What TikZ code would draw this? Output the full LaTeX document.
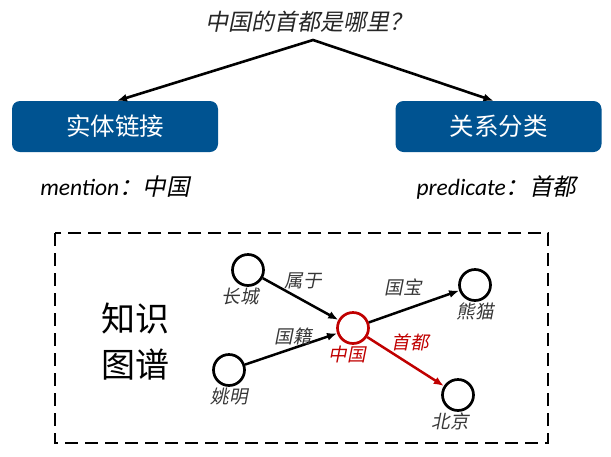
\documentclass[tikz,border=0pt]{standalone}
\usepackage{fontspec}
\setmainfont{Carlito}
\newfontfamily\cjk{Noto Sans CJK SC}
\newfontfamily\cjkit[FakeSlant=0.2]{Noto Sans CJK SC}
\usetikzlibrary{arrows.meta}

\definecolor{boxblue}{RGB}{0,83,145}
\definecolor{kgred}{RGB}{192,0,0}
\definecolor{txtgray}{RGB}{55,55,55}

\tikzset{
  task/.style={rectangle, rounded corners=8pt, fill=boxblue, minimum width=206pt,
    minimum height=51pt, text=white, font=\fontsize{24.5}{28}\selectfont\cjk},
  ent/.style={circle, draw, line width=2.7pt, minimum size=31pt, inner sep=0pt},
  entlbl/.style={font=\fontsize{18.5}{22}\selectfont\cjkit, text=txtgray, inner sep=1pt},
  rellbl/.style={font=\fontsize{18.5}{22}\selectfont\cjkit, text=txtgray, inner sep=1pt},
  rel/.style={-{Latex[length=10pt,width=8pt]}, line width=2.5pt},
  split/.style={{Latex[length=10pt,width=8pt]}-{Latex[length=10pt,width=8pt]}, line width=2.6pt},
  dashbox/.style={line width=2.8pt, dash pattern=on 13pt off 7pt}
}

\begin{document}
\begin{tikzpicture}[x=1pt, y=-1pt]
  \useasboundingbox (0,0) rectangle (611,456);

  % question and the two tasks
  \node[font=\fontsize{23}{26}\selectfont\cjkit, text=black!85] (ques) at (308.5,22) {中国的首都是哪里？};
  \coordinate (top) at (313,40);
  \node[task] (el) at (115,126.5) {实体链接};
  \node[task] (rc) at (498.5,126.5) {关系分类};
  \draw[split] ([xshift=2pt]el.north) -- (top) -- ([xshift=-5pt]rc.north);

  \node[font=\fontsize{23.5}{26}\selectfont\itshape] (men) at (115,187) {mention\cjkit ：中国};
  \node[font=\fontsize{23.5}{26}\selectfont\itshape] (pre) at (496.5,187) {predicate\cjkit ：首都};

  % knowledge graph
  \draw[dashbox] (55,233) rectangle (548,443);
  \node[font=\fontsize{34}{46}\selectfont\cjk, align=center] (kg) at (135,342) {知识\\图谱};

  \node[ent, label={[entlbl,xshift=-8pt]below:长城}] (cc) at (248,270) {};
  \node[ent, label={[entlbl]below:姚明}] (ym) at (229,370) {};
  \node[ent, draw=kgred, label={[entlbl,text=kgred,xshift=-6pt]below:中国}] (zg) at (353,328) {};
  \node[ent, label={[entlbl]below:熊猫}] (xm) at (475,285) {};
  \node[ent, label={[entlbl,xshift=-8pt]below:北京}] (bj) at (458,395) {};

  \draw[rel] (cc) -- node[rellbl, above=8pt, xshift=2.5pt] {属于} (zg);
  \draw[rel] (ym) -- node[rellbl, above=2pt, xshift=2pt] {国籍} (zg);
  \draw[rel] (zg) -- node[rellbl, above=8.5pt, xshift=-11pt] {国宝} (xm);
  \draw[rel, kgred] (zg) -- node[rellbl, text=kgred, above=8.5pt, xshift=4.5pt] {首都} (bj);
\end{tikzpicture}
\end{document}
